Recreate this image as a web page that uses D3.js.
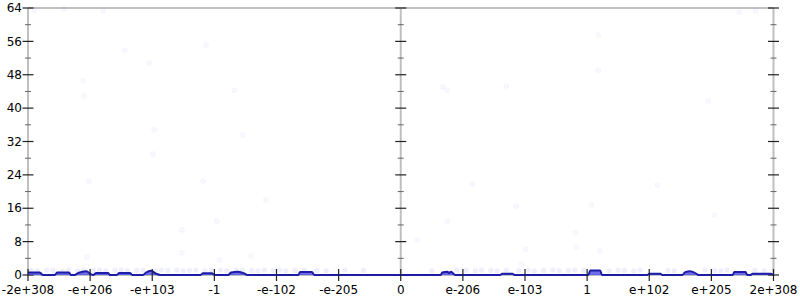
<!DOCTYPE html>
<html>
<head>
<meta charset="utf-8">
<script src="https://cdn.jsdelivr.net/npm/d3@7"></script>
<style>
  html, body { margin: 0; padding: 0; background: #fff; }
  svg text { font-family: "DejaVu Sans", sans-serif; font-size: 12px; fill: #000; }
</style>
</head>
<body>
<svg id="chart" width="800" height="300"></svg>
<script>
// x positions are in "tick index" units: -6 .. 6, one unit per labelled tick
var xTickLabels = ["-2e+308", "-e+206", "-e+103", "-1", "-e-102", "-e-205", "0",
                   "e-206", "e-103", "1", "e+102", "e+205", "2e+308"];
var xTickPos = [-6, -5, -4, -3, -2, -1, 0, 1, 2, 3, 4, 5, 6];
var yMajor = [0, 8, 16, 24, 32, 40, 48, 56, 64];
var yMinor = [4, 12, 20, 28, 36, 44, 52, 60];

// histogram line (bin position, count)
var lineX = [-6.0, -5.81, -5.76, -5.57, -5.53, -5.34, -5.31, -5.25, -5.19, -5.06, -5.0, -4.95,
             -4.90, -4.71, -4.68, -4.57, -4.53, -4.36, -4.32, -4.15, -4.10, -4.02, -3.94, -3.87,
             -3.23, -3.18, -3.04, -2.99, -2.78, -2.73, -2.62, -2.52, -2.47, -1.65, -1.62, -1.43,
             -1.39, 0, 0.64, 0.67, 0.75, 0.78, 0.81, 0.85, 0.88, 1.60, 1.63, 1.80, 1.83, 3.02,
             3.05, 3.21, 3.24, 3.97, 4.0, 4.18, 4.21, 4.53, 4.58, 4.66, 4.76, 4.79, 5.34, 5.37,
             5.55, 5.58, 5.63, 5.66, 5.95, 6.0];
var lineY = [0.6, 0.6, 0, 0, 0.6, 0.6, 0, 0, 0.5, 0.9, 0.3, 0,
             0.5, 0.5, 0, 0, 0.5, 0.5, 0, 0, 0.6, 1.0, 0.3, 0,
             0, 0.4, 0.4, 0, 0, 0.6, 0.8, 0.4, 0, 0, 0.7, 0.7,
             0, 0, 0, 0.6, 0.8, 0.5, 0.8, 0.3, 0, 0, 0.3, 0.3, 0, 0,
             1.1, 1.1, 0, 0, 0.3, 0.3, 0, 0, 0.7, 0.9, 0.3, 0, 0, 0.7,
             0.7, 0, 0, 0.3, 0.3, 0];

// scattered samples
var ptX = [-5.90, -5.42, -4.79, -4.44, -4.05, -5.11, -5.10, -3.97, -3.99, -5.02, -3.18, -2.96,
           -3.52, -3.13, -2.68, -2.54, -2.17, -5.05, -3.52, -2.92, -2.41,
           3.18, 3.18, 0.68, 0.75, 1.70, 1.15, 1.86, 3.07, 0.75, 0.27, 2.81, 2.83, 2.01, 3.20,
           1.94, 5.45, 5.71, 4.95, 5.05, 4.13];
var ptY = [63.5, 63.8, 63.3, 53.9, 50.8, 46.5, 42.9, 34.8, 29.0, 22.5, 22.5, 12.9,
           10.8, 55.1, 44.3, 33.6, 18.0, 4.3, 5.3, 3.6, 4.6,
           57.5, 49.1, 45.1, 44.3, 45.3, 21.8, 16.5, 16.8, 12.9, 8.4, 10.1, 6.7, 6.2, 5.8,
           2.6, 63.0, 63.3, 41.7, 14.4, 21.6];

// dense samples just above zero
var lowX = [-5.95, -5.85, -5.7, -5.6, -5.45, -5.35, -5.2, -5.1, -4.95, -4.85, -4.75, -4.6,
            -4.5, -4.4, -4.25, -4.15, -3.95, -3.85, -3.75, -3.6, -3.5, -3.4, -3.3, -3.15,
            -3.05, -2.9, -2.8, -2.65, -2.55, -2.4, -2.3, -2.2, -2.05, -1.95, -1.85, -1.7,
            -1.55, -1.35, -1.2, -0.9, -0.6, 0.5, 0.9, 1.05, 1.2, 1.3, 1.45, 1.55, 1.7,
            1.9, 2.05, 2.15, 2.3, 2.45, 2.55, 2.7, 2.8, 2.95, 3.35, 3.5, 3.6, 3.75, 3.85,
            4.3, 4.4, 4.9, 5.05, 5.15, 5.25, 5.7, 5.85];
var lowY = [1.1, 1.0, 1.2, 1.1, 0.9, 1.2, 1.0, 1.2, 1.1, 1.2, 1.0, 1.1,
            1.2, 1.0, 1.1, 1.2, 1.0, 1.2, 1.1, 1.2, 1.0, 1.1, 1.2, 1.0,
            1.1, 1.2, 1.0, 1.1, 1.2, 1.1, 1.0, 1.2, 1.1, 1.2, 1.0, 1.1,
            1.2, 1.1, 1.0, 1.2, 1.1, 1.0, 1.2, 1.1, 1.0, 1.2, 1.1, 1.0, 1.2,
            1.1, 1.2, 1.0, 1.1, 1.2, 1.0, 1.1, 1.2, 1.1, 1.0, 1.2, 1.1, 1.0, 1.2,
            1.1, 1.0, 1.2, 1.1, 1.0, 1.2, 1.1, 1.0];

var svg = d3.select('#chart');
var plotLeft = 28, plotRight = 773.5, plotTop = 8, plotBottom = 275;

var x = d3.scaleLinear().domain([-6, 6]).range([plotLeft, plotRight]);
var y = d3.scaleLinear().domain([0, 64]).range([plotBottom, plotTop]);

// frame: top rule, bottom rule, three vertical axes
var axisColor = '#c0c0c0';
svg.append('line').attr('x1', plotLeft).attr('x2', plotRight).attr('y1', y(64)).attr('y2', y(64))
    .attr('stroke', axisColor).attr('stroke-width', 2);
svg.append('line').attr('x1', plotLeft).attr('x2', plotRight).attr('y1', y(0)).attr('y2', y(0))
    .attr('stroke', axisColor).attr('stroke-width', 2);

[-6, 0, 6].forEach(function(v) {
    var g = svg.append('g');
    g.append('line').attr('x1', x(v)).attr('x2', x(v)).attr('y1', y(0)).attr('y2', y(64))
        .attr('stroke', axisColor).attr('stroke-width', 2);
    yMajor.forEach(function(d) {
        g.append('line').attr('x1', x(v) - 5.5).attr('x2', x(v) + 5.5)
            .attr('y1', y(d)).attr('y2', y(d)).attr('stroke', '#222').attr('stroke-width', 1.2);
    });
    yMinor.forEach(function(d) {
        g.append('line').attr('x1', x(v) - 3).attr('x2', x(v) + 3)
            .attr('y1', y(d)).attr('y2', y(d)).attr('stroke', '#666').attr('stroke-width', 1);
    });
});

// y labels on the left
svg.append('g').selectAll('text').data(yMajor).enter().append('text')
    .attr('x', plotLeft - 6).attr('y', function(d) { return y(d); })
    .attr('dy', '0.35em').attr('text-anchor', 'end')
    .text(function(d) { return d; });

// scatter samples (very faint)
svg.append('g').selectAll('circle').data(d3.range(lowX.length)).enter().append('circle')
    .attr('cx', function(i) { return x(lowX[i]); })
    .attr('cy', function(i) { return y(lowY[i]); })
    .attr('r', 2.6).attr('fill', '#7a7af0').attr('fill-opacity', 0.13);

svg.append('g').selectAll('circle').data(d3.range(ptX.length)).enter().append('circle')
    .attr('cx', function(i) { return x(ptX[i]); })
    .attr('cy', function(i) { return y(ptY[i]); })
    .attr('r', 2.5).attr('fill', '#8080ff').attr('fill-opacity', 0.06)
    .attr('stroke', '#8080ff').attr('stroke-opacity', 0.05);

// histogram area + line
var pts = d3.range(lineX.length).map(function(i) { return [lineX[i], lineY[i]]; });
var area = d3.area().x(function(d) { return x(d[0]); })
    .y0(y(0)).y1(function(d) { return y(d[1]); }).curve(d3.curveMonotoneX);
var line = d3.line().x(function(d) { return x(d[0]); })
    .y(function(d) { return y(d[1]); }).curve(d3.curveMonotoneX);

svg.append('path').datum(pts).attr('d', area).attr('fill', '#4a4ae8').attr('fill-opacity', 0.8);
svg.append('path').datum(pts).attr('d', line).attr('fill', 'none')
    .attr('stroke', '#1c1ca8').attr('stroke-width', 2);

// x ticks and labels
var xAxis = svg.append('g');
xTickPos.forEach(function(v, i) {
    xAxis.append('line').attr('x1', x(v)).attr('x2', x(v)).attr('y1', y(0) - 6).attr('y2', y(0) + 6)
        .attr('stroke', '#222').attr('stroke-width', 1.2);
    xAxis.append('text').attr('x', x(v)).attr('y', 294).attr('text-anchor', 'middle')
        .text(xTickLabels[i]);
});
</script>
</body>
</html>
